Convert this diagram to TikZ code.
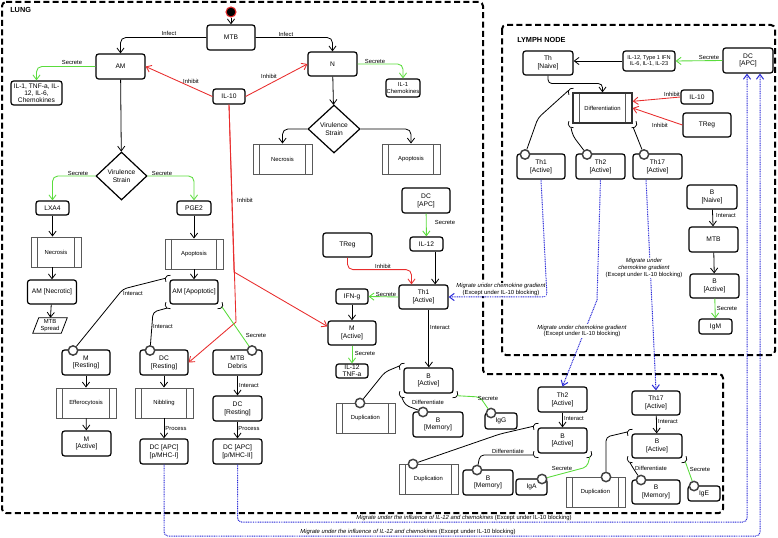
\documentclass[tikz,border=0pt]{standalone}
\usepackage{fontspec}
\setmainfont{Liberation Sans}
\usetikzlibrary{arrows.meta,shapes.geometric,calc}
\definecolor{lgreen}{RGB}{90,220,60}
\definecolor{lred}{RGB}{232,45,45}
\definecolor{lblue}{RGB}{40,40,215}
\newcommand\nodefnt{\fontsize{5}{5.8}\selectfont}
\newcommand\lblfnt{\fontsize{4.4}{5.1}\selectfont}
\newcommand\smallfnt{\fontsize{4.2}{4.9}\selectfont}
\newcommand\nl{\\{}}
\newcommand\pTL[1]{\draw[port] ([shift={(75:3.2pt)}]#1.north west) arc[start angle=75, end angle=215, radius=3.2pt];}
\newcommand\pBL[1]{\draw[port] ([shift={(145:3.2pt)}]#1.south west) arc[start angle=145, end angle=285, radius=3.2pt];}
\newcommand\pBR[1]{\draw[port] ([shift={(-105:3.2pt)}]#1.south east) arc[start angle=-105, end angle=35, radius=3.2pt];}
\begin{document}
\begin{tikzpicture}[x=0.75pt,y=-0.75pt,
 sz/.style 2 args={minimum width=#1*0.75pt, minimum height=#2*0.75pt},
 box/.style={draw, rounded corners=2pt, line width=0.9pt, fill=white, align=center, inner sep=0pt, font=\nodefnt},
 proc/.style={draw=black!65, line width=0.7pt, fill=white, align=center, inner sep=0pt, font=\lblfnt,
   path picture={\draw[black!65, line width=0.6pt]
     ([xshift=5pt]path picture bounding box.north west) -- ([xshift=5pt]path picture bounding box.south west)
     ([xshift=-5pt]path picture bounding box.north east) -- ([xshift=-5pt]path picture bounding box.south east);}},
 dia/.style={diamond, draw, line width=0.9pt, fill=white, align=center, inner sep=0pt, font=\nodefnt},
 ball/.style={circle, draw=black!75, line width=1.1pt, fill=white, minimum size=7pt, inner sep=0pt},
 lbl/.style={font=\lblfnt, inner sep=0.5pt},
 mig/.style={font=\lblfnt, inner sep=0.5pt, align=center},
 arr/.style={-{Straight Barb[length=3.6pt,width=5.4pt]}, line width=0.6pt},
 gr/.style={arr, draw=lgreen, line width=0.65pt},
 rd/.style={arr, draw=lred, line width=0.65pt},
 bl/.style={arr, draw=lblue, dash pattern=on 0.7pt off 0.6pt, line width=0.75pt},
 link/.style={line width=0.6pt, rounded corners=3pt},
 port/.style={line width=0.55pt},
 region/.style={line width=1.5pt, dash pattern=on 4.5pt off 2.5pt, rounded corners=3pt},
 title/.style={font=\bfseries\fontsize{5.5}{6}\selectfont, anchor=west, inner sep=0pt}
]
\useasboundingbox (0,0) rectangle (778,538);
% regions
\draw[region] (2,2) -- (483,2) -- (483,374) -- (723,374) -- (723,513) -- (2,513) -- cycle;
\draw[region] (502,25) rectangle (775,355);
\node[title] (tLung) at (10,10) {LUNG};
\node[title] (tLymph) at (517,40) {LYMPH NODE};

% ---------- lung nodes ----------
\node[circle, fill=black, draw=lred, line width=0.8pt, minimum size=7.5pt, inner sep=0pt] (start) at (231,12) {};
\node[box, sz={48}{25}] (mtb) at (231,37.5) {MTB};
\node[box, sz={49}{25}] (am) at (120.5,66.5) {AM};
\node[box, sz={49}{24}] (n) at (332.5,64) {N};
\node[box, sz={51}{24}, font=\fontsize{5}{5.4}\selectfont] (amsec) at (36.5,93) {IL-1, TNF-a, IL-\\12, IL-6,\\Chemokines};
\node[box, sz={34}{18}, font=\lblfnt] (nsec) at (403,88) {IL-1\\Chemokines};
\node[box, sz={32}{15}] (il10) at (229,96.5) {IL-10};
\node[dia, sz={52}{48}] (vsN) at (334,129) {Virulence\\Strain};
\node[proc, sz={59}{30}] (necN) at (282.5,159) {Necrosis};
\node[proc, sz={58}{30}] (apoN) at (411,159) {Apoptosis};
\node[dia, sz={51}{48}] (vsA) at (121.5,176) {Virulence\\Strain};
\node[box, sz={33}{14}] (lxa4) at (52.5,208) {LXA4};
\node[box, sz={34}{14}] (pge2) at (194,208) {PGE2};
\node[proc, sz={50}{30}] (necA) at (56,252) {Necrosis};
\node[box, sz={49}{24}] (amnec) at (52,292) {AM [Necrotic]};
\node[font=\lblfnt, align=center, inner sep=0pt, sz={28}{15}] (mtbspread) at (50,325.5) {MTB\\Spread};
\draw[line width=0.6pt] ($(mtbspread.north west)+(3,0)$) -- ($(mtbspread.north east)+(3,0)$) -- ($(mtbspread.south east)+(-3,0)$) -- ($(mtbspread.south west)+(-3,0)$) -- cycle;
\node[proc, sz={58}{30}] (apoA) at (194,254) {Apoptosis};
\node[box, sz={48}{24}] (amapo) at (194,292) {AM [Apoptotic]};
\node[box, sz={48}{25}] (mrest) at (86,362.5) {M\nl[Resting]};
\node[box, sz={48}{25}] (dcrest) at (164,362.5) {DC\nl[Resting]};
\node[box, sz={49}{25}] (mtbdeb) at (237.5,362.5) {MTB\\Debris};
\node[proc, sz={60}{30}] (effer) at (86,403) {Efferocytosis};
\node[proc, sz={58}{30}] (nibb) at (164,403) {Nibbling};
\node[box, sz={49}{25}] (dcrest2) at (237.5,408.5) {DC\nl[Resting]};
\node[box, sz={49}{25}] (mact) at (86.5,443.5) {M\nl[Active]};
\node[box, sz={48}{25}] (dcapc1) at (164,451.5) {DC [APC]\nl[p/MHC-I]};
\node[box, sz={49}{25}] (dcapc2) at (237.5,451.5) {DC [APC]\nl[p/MHC-II]};

\node[box, sz={48}{25}] (dcl) at (426,200.5) {DC\nl[APC]};
\node[box, sz={33}{14}] (il12l) at (426.5,244) {IL-12};
\node[box, sz={49}{24}] (treg) at (347.5,245) {TReg};
\node[box, sz={49}{24}] (th1l) at (423.5,297) {Th1\nl[Active]};
\node[box, sz={32}{15}] (ifng) at (352,296.5) {IFN-g};
\node[box, sz={48}{24}] (mactl) at (352,333) {M\nl[Active]};
\node[box, sz={32}{14}, font=\fontsize{5}{5.3}\selectfont] (il12tnf) at (352,371) {IL-12\\TNF-a};
\node[box, sz={49}{25}] (bact1) at (428.5,380.5) {B\nl[Active]};
\node[proc, sz={59}{30}] (dup1) at (365.5,418) {Duplication};
\node[box, sz={50}{25}] (bmem1) at (438,424.5) {B\nl[Memory]};
\node[box, sz={32}{16}] (igg) at (501,421) {IgG};
\node[box, sz={49}{25}] (th2l) at (562.5,399.5) {Th2\nl[Active]};
\node[box, sz={49}{25}] (bact2) at (562.5,440.5) {B\nl[Active]};
\node[proc, sz={59}{30}] (dup2) at (428.5,479) {Duplication};
\node[box, sz={50}{25}] (bmem2) at (488,482.5) {B\nl[Memory]};
\node[box, sz={31}{16}] (iga) at (531.5,487) {IgA};
\node[box, sz={48}{24}] (th17l) at (656,403) {Th17\nl[Active]};
\node[box, sz={50}{24}] (bact3) at (657,446) {B\nl[Active]};
\node[proc, sz={59}{30}] (dup3) at (595.5,492) {Duplication};
\node[box, sz={48}{24}] (bmem3) at (656,492) {B\nl[Memory]};
\node[box, sz={32}{15}] (ige) at (704,493.5) {IgE};

% ---------- lymph node nodes ----------
\node[box, sz={50}{25}] (dcln) at (748,60.5) {DC\nl[APC]};
\node[box, sz={52}{20}, font=\smallfnt] (ilmix) at (649,61) {IL-12, Type 1 IFN\\IL-6, IL-1, IL-23};
\node[box, sz={50}{24}] (thn) at (548,63) {Th\nl[Naive]};
\node[proc, sz={59}{30}, draw=black!80, line width=0.9pt] (diff) at (602.5,108) {Differentiation};
\node[box, sz={32}{14}] (il10ln) at (697,97) {IL-10};
\node[box, sz={48}{24}] (tregln) at (707,125) {TReg};
\node[box, sz={48}{25}] (th1ln) at (541,166.5) {Th1\nl[Active]};
\node[box, sz={49}{25}] (th2ln) at (600.5,166.5) {Th2\nl[Active]};
\node[box, sz={49}{25}] (th17ln) at (657.5,166.5) {Th17\nl[Active]};
\node[box, sz={50}{24}] (bnaive) at (712,197) {B\nl[Naive]};
\node[box, sz={49}{25}] (mtbln) at (713.5,239.5) {MTB};
\node[box, sz={49}{24}] (bactln) at (714.5,286) {B\nl[Active]};
\node[box, sz={33}{15}] (igm) at (715.5,326.5) {IgM};

% ---------- ports ----------
\pTL{amapo}\pBL{amapo}\pBR{amapo}
\pTL{diff}\pBL{diff}\pBR{diff}
\pTL{bact1}\pBL{bact1}\pBR{bact1}
\pTL{bact2}\pBL{bact2}\pBR{bact2}
\pTL{bact3}\pBL{bact3}\pBR{bact3}
\coordinate (amapoTL) at ([shift={(165:3.2pt)}]amapo.north west);
\coordinate (amapoBL) at ([shift={(235:3.2pt)}]amapo.south west);
\coordinate (amapoBR) at ([shift={(-35:3.2pt)}]amapo.south east);
\coordinate (diffTL) at ([shift={(150:3.2pt)}]diff.north west);
\coordinate (diffBL) at ([shift={(250:3.2pt)}]diff.south west);
\coordinate (diffBR) at ([shift={(-80:3.2pt)}]diff.south east);
\coordinate (b1TL) at ([shift={(160:3.2pt)}]bact1.north west);
\coordinate (b1BL) at ([shift={(250:3.2pt)}]bact1.south west);
\coordinate (b1BR) at ([shift={(-30:3.2pt)}]bact1.south east);
\coordinate (b2TL) at ([shift={(165:3.2pt)}]bact2.north west);
\coordinate (b2BL) at ([shift={(200:3.2pt)}]bact2.south west);
\coordinate (b2BR) at ([shift={(-60:3.2pt)}]bact2.south east);
\coordinate (b3TL) at ([shift={(160:3.2pt)}]bact3.north west);
\coordinate (b3BL) at ([shift={(250:3.2pt)}]bact3.south west);
\coordinate (b3BR) at ([shift={(-50:3.2pt)}]bact3.south east);

% ---------- balls ----------
\node[ball] (mrestB) at (73,350.5) {};
\node[ball] (dcrestB) at (150,350.5) {};
\node[ball] (mtbdebB) at (252,350.5) {};
\node[ball] (th1lnB) at (525,154.5) {};
\node[ball] (th2lnB) at (587,154.5) {};
\node[ball] (th17lnB) at (644,154.5) {};
\node[ball] (dup1B) at (360,403) {};
\node[ball] (bmem1B) at (423,412) {};
\node[ball] (iggB) at (491,413) {};
\node[ball] (dup2B) at (413,464) {};
\node[ball] (bmem2B) at (477,470) {};
\node[ball] (igaB) at (542,479) {};
\node[ball] (dup3B) at (606,477) {};
\node[ball] (bmem3B) at (641,480) {};
\node[ball] (igeB) at (694,486) {};

% ---------- black connectors ----------
\draw[arr] (start) -- (mtb);
\draw[arr, rounded corners=4pt] (mtb.west) -| (am.north);
\draw[arr, rounded corners=4pt] (mtb.east) -| (n.north);
\draw[arr] (am) -- (vsA);
\draw[arr] (n) -- (vsN);
\draw[arr, rounded corners=4pt] (vsN.west) -| (necN.north);
\draw[arr, rounded corners=4pt] (vsN.east) -| (apoN.north);
\draw[arr] (lxa4) -- (lxa4 |- necA.north);
\draw[arr] (necA.south -| amnec) -- (amnec.north);
\draw[arr] (amnec) -- (mtbspread);
\draw[arr] (pge2) -- (apoA);
\draw[arr] (apoA) -- (amapo);
\draw[arr] (mrest) -- (effer);
\draw[arr] (effer) -- (mact);
\draw[arr] (dcrest) -- (nibb);
\draw[arr] (nibb) -- (dcapc1);
\draw[arr] (mtbdeb) -- (dcrest2);
\draw[arr] (dcrest2) -- (dcapc2);
\draw[arr] ([xshift=6.5pt]il12l.south) -- ([xshift=6.5pt]il12l.south |- th1l.north);
\draw[arr] (ifng) -- (mactl);
\draw[arr] ([xshift=4pt]th1l.south) -- ([xshift=4pt]th1l.south |- bact1.north);
\draw[arr] (th2l) -- (bact2);
\draw[arr] (th17l) -- (bact3);
\draw[arr] (ilmix.west) -- (ilmix.west -| thn.east);
\draw[link, arr] (thn.south) -- ++(0,8) -| (diff.north);
\draw[arr] (bnaive) -- (mtbln);
\draw[arr] (mtbln) -- (bactln);

% ---------- green connectors ----------
\draw[gr, rounded corners=4pt] (am.west) -| (amsec.north);
\draw[gr, rounded corners=4pt] (n.east) -| (nsec.north);
\draw[gr, rounded corners=4pt] (vsA.west) -| (lxa4.north);
\draw[gr, rounded corners=4pt] (vsA.east) -| (pge2.north);
\draw[gr] (dcl) -- (il12l);
\draw[gr] (th1l.west) -- (ifng.east);
\draw[gr] (mactl) -- (il12tnf);
\draw[gr] (dcln.west) -- (ilmix.east);
\draw[gr] (bactln) -- (igm);

% ---------- red connectors ----------
\draw[rd] (il10.west) -- (am.east);
\draw[rd] (il10.east) -- (n.west);
\draw[rd] (il10.south) -- (234,272) -- ([yshift=-4.5pt]mactl.north west);
\draw[rd] (il10.south) -- (236,322) -- (dcrest.east);
\draw[rd, rounded corners=4pt] (treg.south) -- ++(0,12) -| ([xshift=-9pt]th1l.north);
\draw[rd] (il10ln.west) -- ([yshift=5pt]diff.east);
\draw[rd] (tregln.west) -- (diff.east);

% ---------- port links ----------
\draw[link] (amapoTL) -- (123,289) -- (mrestB);
\draw[link] (amapoBL) -- (153,312) -- (dcrestB);
\draw[link, draw=lgreen, line width=0.65pt] (amapoBR) -- (mtbdebB);
\draw[link] (diffTL) -- (538,118) -- (th1lnB);
\draw[link] (diffBL) -- (573,136) -- (th2lnB);
\draw[link] (diffBR) -- (th17lnB);
\draw[link] (b1TL) -- (385,372) -- (dup1B);
\draw[link] (b1BL) -- (405,405) -- (bmem1B);
\draw[link, draw=lgreen, line width=0.65pt] (b1BR) -- (480,397) -- (iggB);
\draw[link] (b2TL) -- (500,434) -- (dup2B);
\draw[link] (b2BL) -- (480,455) -- (bmem2B);
\draw[link, draw=lgreen, line width=0.65pt] (b2BR) -- (587,467) -- (igaB);
\draw[link] (b3TL) -- (606,437) -- (dup3B);
\draw[link] (b3BL) -- (633,468) -- (bmem3B);
\draw[link, draw=lgreen, line width=0.65pt] (b3BR) -- (igeB);

% ---------- blue migrations ----------
\draw[bl, rounded corners=3pt] (th1ln.south) -- (547,297) -- (th1l.east);
\draw[bl] (th2ln.south) -- (597,300) -- (th2l.north);
\draw[bl] ([xshift=-8.6pt]th17ln.south) -- (th17l.north);
\draw[bl, rounded corners=3pt] (dcapc1.south) -- (164,536) -- (760,536) -- ([xshift=9pt]dcln.south);
\draw[bl, rounded corners=3pt] (dcapc2.south) -- (237.5,522) -- (747,522) -- ([xshift=-0.75pt]dcln.south);
\node[mig, fill=white] (mg1) at (501,289.5) {\textit{Migrate under chemokine gradient}\\(Except under IL-10 blocking)};
\node[mig, fill=white] (mg2) at (582,331) {\textit{Migrate under chemokine gradient}\\(Except under IL-10 blocking)};
\node[mig, fill=white] (mg3) at (644,268) {\textit{Migrate under}\\\textit{chemokine gradient}\\(Except under IL-10 blocking)};
\node[mig] (mg4) at (464,518) {\textit{Migrate under the influence of IL-12 and chemokines} (Except under IL-10 blocking)};
\node[mig] (mg5) at (408,532) {\textit{Migrate under the influence of IL-12 and chemokines} (Except under IL-10 blocking)};

% ---------- edge labels ----------
\node[lbl] (l1) at (169,33) {Infect};
\node[lbl] (l2) at (286,34) {Infect};
\node[lbl] (l3) at (72,62) {Secrete};
\node[lbl] (l4) at (375,61) {Secrete};
\node[lbl] (l5) at (191,81) {Inhibit};
\node[lbl] (l6) at (269,76) {Inhibit};
\node[lbl] (l7) at (78,173) {Secrete};
\node[lbl] (l8) at (162,173) {Secrete};
\node[lbl] (l9) at (245,200) {Inhibit};
\node[lbl] (l10) at (133,294) {Interact};
\node[lbl] (l11) at (163,327) {Interact};
\node[lbl] (l12) at (256,335) {Secrete};
\node[lbl] (l13) at (249,386) {Interact};
\node[lbl] (l14) at (176,429) {Process};
\node[lbl] (l15) at (249,429) {Process};
\node[lbl] (l16) at (445,222) {Secrete};
\node[lbl] (l17) at (383,266) {Inhibit};
\node[lbl] (l18) at (386,294) {Secrete};
\node[lbl] (l19) at (440,328) {Interact};
\node[lbl] (l20) at (365,353) {Secrete};
\node[lbl] (l21) at (428,402) {Differentiate};
\node[lbl] (l22) at (488,398) {Secrete};
\node[lbl] (l23) at (574,419) {Interact};
\node[lbl] (l24) at (668,422) {Interact};
\node[lbl] (l25) at (508,451) {Differentiate};
\node[lbl] (l26) at (562,468) {Secrete};
\node[lbl] (l27) at (651,468) {Differentiate};
\node[lbl] (l28) at (700,469) {Secrete};
\node[lbl] (l29) at (709,57) {Secrete};
\node[lbl] (l30) at (672,94) {Inhibit};
\node[lbl] (l31) at (660,125) {Inhibit};
\node[lbl] (l32) at (726,216) {Interact};
\node[lbl] (l33) at (727,308) {Secrete};
\end{tikzpicture}
\end{document}
